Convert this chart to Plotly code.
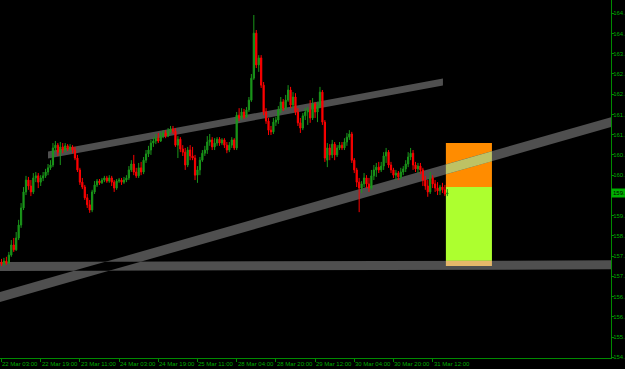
import plotly.graph_objects as go

# ---------------- data (GBPJPY-like H1 candles) ----------------
opens = [
    157.58,157.53,157.61,157.55,157.78,158.07,157.93,158.27,158.64,159.13,
    159.59,159.93,159.76,159.59,159.99,160.05,159.87,159.99,160.05,160.16,
    160.28,160.36,160.85,160.93,160.73,160.88,160.79,160.91,160.82,160.88,
    160.79,160.56,160.22,159.87,159.73,159.42,159.22,159.07,159.59,159.79,
    159.90,159.85,159.93,159.99,159.90,159.99,159.87,159.70,159.90,159.93,
    159.87,159.93,159.99,160.22,160.39,160.16,160.05,160.28,160.16,160.50,
    160.68,160.79,160.99,161.05,161.13,161.05,161.19,161.28,161.19,161.33,
    161.39,161.33,160.93,161.10,160.82,160.73,160.36,160.79,160.62,160.56,
    160.07,160.22,160.50,160.70,160.79,161.02,161.08,160.88,160.99,161.10,
    160.99,161.08,160.93,160.79,160.93,161.08,160.85,161.79,161.71,161.88,
    161.74,161.94,162.22,162.85,164.14,163.23,163.43,162.65,161.88,161.62,
    161.36,161.31,161.59,161.65,161.94,162.17,161.99,162.22,162.51,162.08,
    162.31,161.88,161.57,161.42,161.77,161.88,161.94,161.71,162.11,161.88,
    162.05,162.45,161.59,160.50,160.85,160.65,160.96,160.65,160.85,160.93,
    160.85,161.02,161.16,161.25,160.50,160.22,159.87,159.70,159.82,159.99,
    159.82,159.70,160.05,160.22,160.30,160.22,160.33,160.62,160.73,160.36,
    160.22,160.07,160.13,160.02,160.16,160.25,160.39,160.59,160.70,160.36,
    160.25,160.33,160.22,159.93,159.76,159.59,159.99,159.82,159.70,159.62,
    159.73,159.65,159.53,
]
highs = [
    157.67,157.70,157.73,157.87,158.21,158.27,158.44,158.79,159.27,159.73,
    160.05,160.02,159.93,160.13,160.16,160.13,160.07,160.16,160.25,160.39,
    160.50,160.99,161.05,160.99,161.02,160.99,160.99,160.96,160.96,160.93,
    160.88,160.65,160.28,159.99,159.79,159.53,159.36,159.65,159.90,159.96,
    159.96,159.99,160.05,160.05,160.07,160.05,159.93,159.96,159.99,159.99,
    160.02,160.07,160.33,160.50,160.65,160.28,160.42,160.45,160.59,160.79,
    160.91,161.08,161.16,161.25,161.28,161.31,161.36,161.36,161.42,161.48,
    161.48,161.42,161.19,161.16,160.93,160.85,160.88,160.93,160.88,160.65,
    160.33,160.59,160.79,160.91,161.19,161.25,161.16,161.13,161.16,161.16,
    161.13,161.13,161.02,161.02,161.16,161.13,161.88,161.99,161.99,161.97,
    162.02,162.31,162.97,164.66,164.23,163.51,163.51,162.74,161.99,161.71,
    161.48,161.71,161.74,162.05,162.31,162.25,162.37,162.65,162.60,162.45,
    162.42,161.99,161.71,161.85,161.99,162.02,162.22,162.28,162.17,162.17,
    162.60,162.51,161.65,160.99,160.96,161.08,161.02,160.93,161.02,161.02,
    161.13,161.28,161.36,161.31,160.56,160.28,159.99,159.90,160.13,160.07,
    159.99,160.22,160.36,160.42,160.45,160.45,160.73,160.85,160.79,160.45,
    160.28,160.22,160.19,160.28,160.33,160.50,160.73,160.85,160.79,160.45,
    160.42,160.42,160.28,160.05,159.93,160.16,160.07,159.93,159.87,159.79,
    159.85,159.79,159.67,
]
lows = [
    157.47,157.47,157.50,157.53,157.73,157.87,157.90,158.21,158.56,159.07,
    159.50,159.65,159.47,159.53,159.87,159.70,159.76,159.90,159.99,160.07,
    160.22,160.30,160.73,160.62,160.36,160.70,160.73,160.76,160.76,160.70,
    160.50,160.16,159.79,159.67,159.36,159.13,158.99,159.01,159.53,159.73,
    159.79,159.82,159.87,159.85,159.85,159.76,159.59,159.65,159.85,159.79,
    159.82,159.87,159.93,160.16,160.07,159.99,159.99,160.07,160.10,160.42,
    160.59,160.65,160.88,160.96,160.99,161.02,161.13,161.13,161.16,161.28,
    161.25,160.88,160.56,160.73,160.62,160.22,160.30,160.50,160.50,159.93,
    159.85,160.07,160.45,160.62,160.68,160.91,160.79,160.79,160.91,160.91,
    160.93,160.85,160.70,160.73,160.85,160.79,160.79,161.62,161.65,161.68,
    161.71,161.88,162.17,162.80,163.14,163.03,162.57,161.79,161.54,161.22,
    161.22,161.25,161.48,161.54,161.85,161.91,161.94,162.17,161.99,161.99,
    161.79,161.48,161.28,161.36,161.65,161.51,161.57,161.65,161.71,161.59,
    161.99,161.51,160.45,160.30,160.50,160.56,160.50,160.59,160.79,160.79,
    160.79,160.91,161.08,160.42,160.13,159.73,159.01,159.56,159.73,159.70,
    159.59,159.65,159.93,160.02,160.13,160.16,160.22,160.42,160.28,160.13,
    159.99,159.93,159.93,159.96,160.07,160.16,160.30,160.50,160.22,160.16,
    160.13,160.10,159.76,159.65,159.45,159.53,159.70,159.59,159.50,159.50,
    159.56,159.47,159.47,
]
closes = [
    157.53,157.61,157.55,157.78,158.07,157.93,158.27,158.64,159.13,159.59,
    159.93,159.76,159.59,159.99,160.05,159.87,159.99,160.05,160.16,160.28,
    160.36,160.85,160.93,160.73,160.88,160.79,160.91,160.82,160.88,160.79,
    160.56,160.22,159.87,159.73,159.42,159.22,159.07,159.59,159.79,159.90,
    159.85,159.93,159.99,159.90,159.99,159.87,159.70,159.90,159.93,159.87,
    159.93,159.99,160.22,160.39,160.16,160.05,160.28,160.16,160.50,160.68,
    160.79,160.99,161.05,161.13,161.05,161.19,161.28,161.19,161.33,161.39,
    161.33,160.93,161.10,160.82,160.73,160.36,160.79,160.62,160.56,160.07,
    160.22,160.50,160.70,160.79,161.02,161.08,160.88,160.99,161.10,160.99,
    161.08,160.93,160.79,160.93,161.08,160.85,161.79,161.71,161.88,161.74,
    161.94,162.22,162.85,164.14,163.23,163.43,162.65,161.88,161.62,161.36,
    161.31,161.59,161.65,161.94,162.17,161.99,162.22,162.51,162.08,162.31,
    161.88,161.57,161.42,161.77,161.88,161.94,161.71,162.11,161.88,162.05,
    162.45,161.59,160.56,160.85,160.65,160.96,160.65,160.85,160.93,160.85,
    161.02,161.16,161.25,160.50,160.22,159.87,159.70,159.82,159.99,159.82,
    159.70,160.05,160.22,160.30,160.22,160.33,160.62,160.73,160.36,160.22,
    160.07,160.13,160.02,160.16,160.25,160.39,160.59,160.70,160.36,160.25,
    160.33,160.22,159.93,159.76,159.59,159.99,159.82,159.70,159.62,159.73,
    159.65,159.53,159.56,
]
bars = list(range(len(closes)))

time_labels = ["22 Mar 03:00", "22 Mar 19:00", "23 Mar 11:00", "24 Mar 03:00",
               "24 Mar 19:00", "25 Mar 11:00", "28 Mar 04:00", "28 Mar 20:00",
               "29 Mar 12:00", "30 Mar 04:00", "30 Mar 20:00", "31 Mar 12:00"]
time_label_bars = [0, 16, 32, 48, 64, 80, 96, 112, 128, 144, 160, 176]

price_ticks = [164.71, 164.13, 163.55, 162.97, 162.39, 161.81, 161.23, 160.65, 160.07,
               159.49, 158.91, 158.33, 157.75, 157.17, 156.59, 156.01, 155.43, 154.85]
# the window edge only leaves the integer part of each price label visible
price_tick_text = ["164.", "164.", "163.", "162.", "162.", "161.", "161.", "160.", "160.",
                   "", "159.", "158.", "157.", "157.", "156.", "156.", "155.", "154."]
current_price_text = "159."

# drawn objects (in bar-index / price coordinates)
upper_trend = [(18.98, 160.65), (180.2, 162.74)]
lower_trend = [(-0.61, 156.58), (248.8, 161.59)]
horizontal_level = [(-0.61, 157.45), (248.8, 157.50)]
risk_box = dict(x0=181.4, x1=200.2, top=160.99, entry=159.73, bottom=157.47)

X_RANGE = [-0.61, 248.8]
Y_RANGE = [154.83, 165.09]

GRAY = "#4f4f4f"
GREEN_TXT = "#00a800"
AXIS_GREEN = "#008a00"
FONT = "Liberation Sans Narrow, Liberation Sans, Arial"


def band(p0, p1, half):
    (x0, y0), (x1, y1) = p0, p1
    return [(x0, y0 - half), (x1, y1 - half), (x1, y1 + half), (x0, y0 + half)]


def rect_poly(x0, x1, y0, y1):
    return [(x0, y0), (x1, y0), (x1, y1), (x0, y1)]


def clip(subject, clipper):
    n = len(clipper)
    area = sum(clipper[i][0] * clipper[(i + 1) % n][1] - clipper[(i + 1) % n][0] * clipper[i][1]
               for i in range(n))
    sgn = 1 if area > 0 else -1
    out = subject
    for i in range(n):
        a, b = clipper[i], clipper[(i + 1) % n]
        inp, out = out, []
        if not inp:
            break

        def side(p):
            return sgn * ((b[0] - a[0]) * (p[1] - a[1]) - (b[1] - a[1]) * (p[0] - a[0]))

        for j in range(len(inp)):
            cur, prev = inp[j], inp[j - 1]
            sc, sp = side(cur), side(prev)
            if sc >= 0:
                if sp < 0:
                    t = sp / (sp - sc)
                    out.append((prev[0] + t * (cur[0] - prev[0]), prev[1] + t * (cur[1] - prev[1])))
                out.append(cur)
            elif sp >= 0:
                t = sp / (sp - sc)
                out.append((prev[0] + t * (cur[0] - prev[0]), prev[1] + t * (cur[1] - prev[1])))
    return out


def path(poly):
    return "M " + " L ".join(f"{x:.4f},{y:.4f}" for x, y in poly) + " Z"


up_band = band(*upper_trend, 0.10)
lo_band = band(*lower_trend, 0.143)
hz_band = band(*horizontal_level, 0.129)
orange_poly = rect_poly(risk_box["x0"], risk_box["x1"], risk_box["entry"], risk_box["top"])
green_poly = rect_poly(risk_box["x0"], risk_box["x1"], risk_box["bottom"], risk_box["entry"])

shapes = []


def add(poly, color):
    if len(poly) >= 3:
        shapes.append(dict(type="path", path=path(poly), xref="x", yref="y",
                           fillcolor=color, line=dict(width=0), layer="below"))


add(orange_poly, "#ff8c00")
add(green_poly, "#adff2f")
add(up_band, GRAY)
add(lo_band, GRAY)
add(hz_band, GRAY)
# overlapping areas mix like MetaTrader's XOR drawing
add(clip(lo_band, hz_band), "#000000")
add(clip(lo_band, orange_poly), "#bec264")
add(clip(hz_band, green_poly), "#e6b86a")

fig = go.Figure()
fig.add_trace(go.Candlestick(
    x=bars, open=opens, high=highs, low=lows, close=closes,
    increasing=dict(line=dict(color="#1a961a", width=1), fillcolor="#1a961a"),
    decreasing=dict(line=dict(color="#ff0000", width=1), fillcolor="#ff0000"),
    whiskerwidth=0, hoverinfo="skip", showlegend=False,
))

annotations = []
for b, t in zip(time_label_bars, time_labels):
    annotations.append(dict(x=b, y=0, xref="x", yref="paper", text=t, showarrow=False,
                            xanchor="left", yanchor="top", xshift=-1, yshift=-1,
                            font=dict(family=FONT, size=6, color=GREEN_TXT)))

last = closes[-1]
annotations.append(dict(x=1, y=last, xref="paper", yref="y", text=current_price_text,
                        showarrow=False, xanchor="left", yanchor="middle", xshift=0,
                        bgcolor="#00b000", borderpad=1,
                        font=dict(family=FONT, size=6, color="#000000")))

fig.update_layout(
    width=625, height=369,
    margin=dict(l=0, r=14, t=0, b=11),
    paper_bgcolor="#000000", plot_bgcolor="#000000",
    template="none",
    boxgap=0.3,
    font=dict(family=FONT, size=6, color=GREEN_TXT),
    shapes=shapes, annotations=annotations,
    xaxis=dict(range=X_RANGE, showgrid=False, zeroline=False, showline=True,
               linecolor=AXIS_GREEN, linewidth=1, ticks="outside", ticklen=3,
               tickcolor=AXIS_GREEN, tickvals=time_label_bars, showticklabels=False,
               rangeslider=dict(visible=False), automargin=False, fixedrange=True),
    yaxis=dict(range=Y_RANGE, side="right", showgrid=False, zeroline=False, showline=True,
               linecolor=AXIS_GREEN, linewidth=1, ticks="outside", ticklen=2,
               tickcolor=AXIS_GREEN, tickvals=price_ticks, ticklabelstandoff=-2,
               ticktext=price_tick_text, automargin=False,
               tickfont=dict(family=FONT, size=6, color=GREEN_TXT), fixedrange=True),
)

fig.write_html("out.html")
